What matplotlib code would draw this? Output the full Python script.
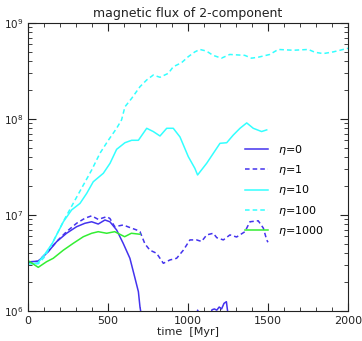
#!/usr/bin/env python3

import numpy as np
import matplotlib
matplotlib.use("Agg")
import matplotlib.pyplot as plt
from matplotlib.ticker import MultipleLocator

# eta = 0 (solid blue), drops below the axis after ~700 Myr
t_eta0 = [0, 64, 127, 179, 241, 304, 356, 398, 439, 481, 512, 554, 595, 637,
          669, 690, 700, 720, 760, 1040, 1060, 1075, 1140, 1150, 1165, 1180,
          1195, 1210, 1225, 1240, 1255, 1300, 1500]
f_eta0 = [3.25e6, 3.3e6, 4.15e6, 5.27e6, 6.45e6, 7.55e6, 8.2e6, 8.5e6, 8.05e6,
          8.87e6, 8.5e6, 6.98e6, 5.07e6, 3.54e6, 2.19e6, 1.59e6, 1.1e6, 7e5,
          3e5, 3e5, 1.02e6, 9e5, 9e5, 1.03e6, 1.05e6, 1.02e6, 1.1e6, 1.05e6,
          1.2e6, 1.25e6, 8e5, 3e5, 3e5]

# eta = 1 (dashed blue)
t_eta1 = [0, 64, 127, 179, 241, 304, 356, 398, 439, 492, 512, 542, 595, 637,
          679, 700, 731, 762, 804, 846, 887, 929, 971, 1012, 1054, 1085, 1117,
          1158, 1180, 1221, 1262, 1304, 1356, 1387, 1439, 1471, 1492, 1500]
f_eta1 = [3.2e6, 3.3e6, 4.2e6, 5.3e6, 6.7e6, 8.2e6, 9.25e6, 9.8e6, 9.0e6,
          9.6e6, 9.2e6, 7.55e6, 7.87e6, 7.4e6, 6.98e6, 6.7e6, 5.0e6, 4.3e6,
          3.99e6, 3.14e6, 3.4e6, 3.54e6, 4.3e6, 5.5e6, 5.5e6, 5.3e6, 6.2e6,
          6.45e6, 5.8e6, 5.5e6, 6.2e6, 5.9e6, 6.7e6, 8.5e6, 8.7e6, 7.3e6,
          5.5e6, 5.2e6]

# eta = 10 (solid cyan)
t_eta10 = [0, 60, 100, 150, 221, 273, 325, 367, 408, 471, 513, 554, 606, 648,
           690, 742, 783, 825, 867, 908, 950, 1002, 1043, 1060, 1117, 1200,
           1242, 1283, 1325, 1367, 1408, 1460, 1492]
f_eta10 = [3.1e6, 3.15e6, 3.8e6, 5.0e6, 8.5e6, 1.13e7, 1.32e7, 1.68e7, 2.22e7,
           2.72e7, 3.46e7, 4.83e7, 5.66e7, 6.0e7, 6.0e7, 8.0e7, 7.4e7, 6.65e7,
           8.0e7, 8.0e7, 6.5e7, 4.05e7, 3.06e7, 2.61e7, 3.46e7, 5.58e7,
           5.66e7, 6.8e7, 8.0e7, 9.1e7, 8.0e7, 7.4e7, 7.7e7]

# eta = 100 (dashed cyan)
t_eta100 = [0, 64, 100, 150, 200, 231, 294, 346, 398, 450, 502, 554, 585, 606,
            648, 700, 742, 783, 825, 877, 908, 960, 1002, 1043, 1074, 1115,
            1157, 1209, 1261, 1355, 1397, 1439, 1511, 1564, 1658, 1752, 1794,
            1846, 1908, 2000]
f_eta100 = [3.1e6, 3.1e6, 3.6e6, 5.0e6, 7.3e6, 9.2e6, 1.43e7, 2.05e7, 2.94e7,
            4.4e7, 6.0e7, 8.0e7, 9.8e7, 1.34e8, 1.64e8, 2.17e8, 2.55e8, 2.87e8,
            2.72e8, 2.99e8, 3.5e8, 3.86e8, 4.46e8, 5.0e8, 5.3e8, 5.1e8, 4.6e8,
            4.3e8, 4.7e8, 4.6e8, 4.3e8, 4.4e8, 4.7e8, 5.3e8, 5.2e8, 5.3e8,
            4.95e8, 4.8e8, 5.0e8, 5.45e8]

# eta = 1000 (solid green)
t_eta1000 = [0, 64, 116, 158, 221, 283, 346, 398, 439, 492, 542, 604, 646, 700]
f_eta1000 = [3.35e6, 2.85e6, 3.26e6, 3.54e6, 4.3e6, 5.07e6, 5.94e6, 6.45e6,
             6.7e6, 6.45e6, 6.7e6, 5.94e6, 6.45e6, 6.3e6]

blue = "#4433ee"
cyan = "#33ffff"
green = "#33ee33"

fig = plt.figure(figsize=(3.62, 3.41), dpi=100)
ax = fig.add_axes([0.0773, 0.0880, 0.8840, 0.8446])

ax.plot(t_eta0, f_eta0, color=blue, lw=1.1, label=r"$\eta$=0")
ax.plot(t_eta1, f_eta1, color=blue, lw=1.1, ls=(0, (3, 2)), label=r"$\eta$=1")
ax.plot(t_eta10, f_eta10, color=cyan, lw=1.1, label=r"$\eta$=10")
ax.plot(t_eta100, f_eta100, color=cyan, lw=1.1, ls=(0, (3, 2)), label=r"$\eta$=100")
ax.plot(t_eta1000, f_eta1000, color=green, lw=1.1, label=r"$\eta$=1000")

ax.set_yscale("log")
ax.set_xlim(0, 2000)
ax.set_ylim(1e6, 1e9)
ax.xaxis.set_major_locator(MultipleLocator(500))
ax.xaxis.set_minor_locator(MultipleLocator(100))
ax.tick_params(which="both", direction="in", top=True, right=True,
               labelsize=8, colors="#222222")
ax.tick_params(axis="y", labelsize=7.5)
ax.tick_params(which="major", length=6)
ax.tick_params(which="minor", length=3)
for s in ax.spines.values():
    s.set_color("#222222")

ax.set_title("magnetic flux of 2-component", fontsize=9, pad=4, color="#222222")
ax.set_xlabel("time  [Myr]", fontsize=8, labelpad=1, color="#222222")

ax.legend(loc="upper left", bbox_to_anchor=(0.678, 0.585), frameon=False,
          fontsize=8, handlelength=2.1, handletextpad=0.9, labelspacing=0.58,
          borderpad=0, borderaxespad=0)

fig.savefig("out.png", dpi=100)
